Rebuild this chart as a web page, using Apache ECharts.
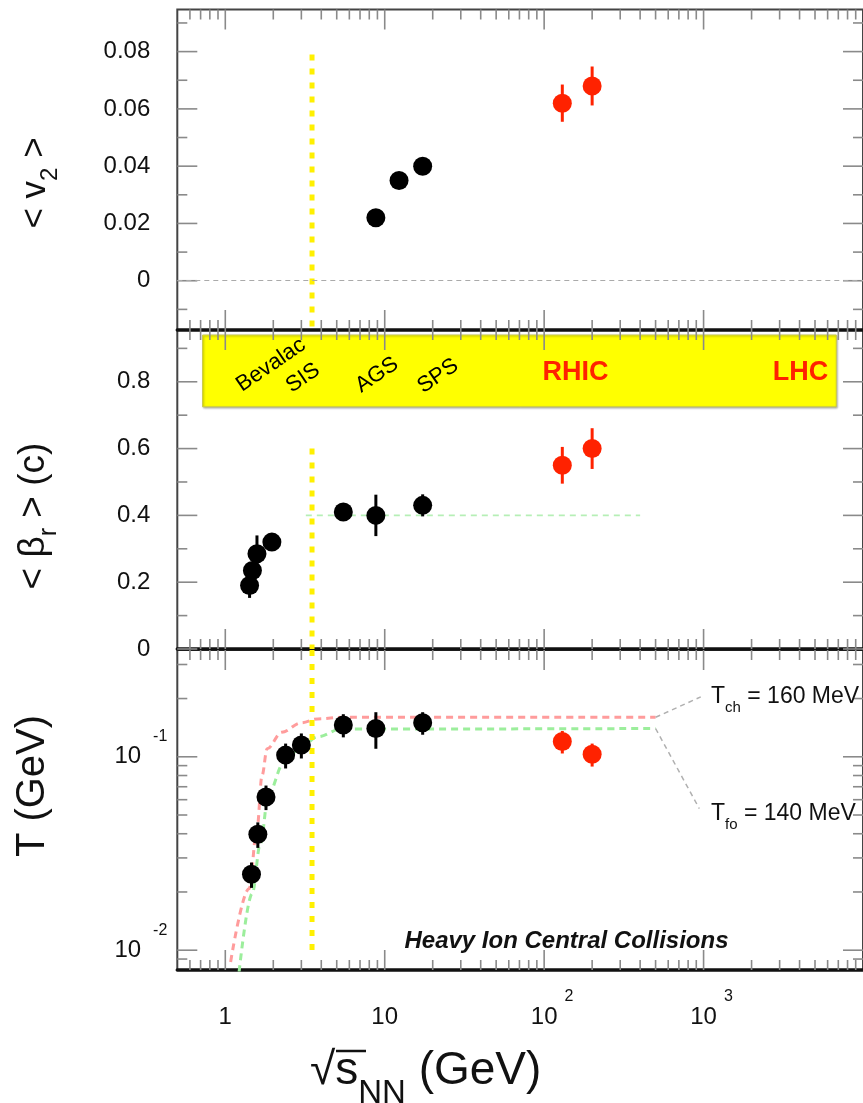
<!DOCTYPE html>
<html>
<head>
<meta charset="utf-8">
<title>Heavy ion central collisions: v2, radial flow and temperatures vs collision energy</title>
<script src="https://cdn.jsdelivr.net/npm/echarts@6/dist/echarts.min.js"></script>
<style>
  html, body { margin: 0; padding: 0; background: #ffffff; }
  #chart { width: 863px; height: 1103px; }
</style>
</head>
<body>
<div id="chart"></div>
<script>
// ---------------- data ----------------
// elliptic flow <v2>
const v2Energy = [8.8, 12.3, 17.3];
const v2Values = [0.022, 0.035, 0.040];
const v2Errors = [0.002, 0.002, 0.002];
const v2RhicEnergy = [130, 200];
const v2RhicValues = [0.062, 0.068];
const v2RhicErrors = [0.0065, 0.0068];

// mean radial flow velocity <beta_r>
const betaEnergy = [1.42, 1.48, 1.58, 1.96, 5.5, 8.8, 17.3];
const betaValues = [0.19, 0.235, 0.285, 0.32, 0.41, 0.40, 0.43];
const betaErrors = [0.037, 0.02, 0.055, 0.02, 0.02, 0.062, 0.033];
const betaRhicEnergy = [130, 200];
const betaRhicValues = [0.55, 0.60];
const betaRhicErrors = [0.055, 0.061];
const betaPlateauEnergy = [3.2, 400];
const betaPlateauValue = 0.40;

// temperatures (GeV)
const tEnergy = [1.46, 1.60, 1.80, 2.39, 3.0, 5.5, 8.8, 17.3];
const tValues = [0.0247, 0.0398, 0.062, 0.102, 0.115, 0.146, 0.140, 0.150];
const tErrors = [0.0037, 0.006, 0.009, 0.015, 0.017, 0.02, 0.03, 0.02];
const tRhicEnergy = [130, 200];
const tRhicValues = [0.120, 0.103];
const tRhicErrors = [0.016, 0.014];

// chemical freeze-out curve (plateau T_ch = 160 MeV)
const T_CH = 0.160;
const tchCurveEnergy = [1.08, 1.41, 1.585, 1.70, 1.83, 2.26, 3.0, 3.8, 5.5, 500];
const tchCurveValues = [0.0087, 0.0208, 0.0435, 0.080, 0.110, 0.134, 0.150, 0.157, T_CH, T_CH];
// kinetic freeze-out curve (plateau T_fo = 140 MeV)
const T_FO = 0.140;
const tfoCurveEnergy = [1.22, 1.475, 1.66, 1.87, 2.32, 3.0, 3.81, 5.3, 500];
const tfoCurveValues = [0.0077, 0.0196, 0.0356, 0.0646, 0.0925, 0.113, 0.127, 0.139, T_FO];
// leader lines from the plateaus to their captions
const tchLeaderEnergy = [500, 960];
const tchLeaderValues = [T_CH, 0.204];
const tfoLeaderEnergy = [500, 940];
const tfoLeaderValues = [T_FO, 0.054];

// SIS energy marker (yellow dotted line)
const sisEnergy = 3.5;
const sisV2Range = [0.079, -0.0172];
const sisBetaRange = [0.6, 0];
const sisTRange = [0.3565, 0.0091];

// accelerator band in the middle panel
const bandEnergy = [0.72, 6800];
const bandBeta = [0.94, 0.725];

// axis ranges
const energyRange = [0.5, 10000];
const v2Range = [-0.0172, 0.0947];
const betaRange = [0, 0.955];
const tRange = [0.0079, 0.3565];

// tick positions
const xMajorTicks = [1, 10, 100, 1000];
const xMinorTicks = [0.6, 0.7, 0.8, 0.9, 2, 3, 4, 5, 6, 7, 8, 9, 20, 30, 40, 50, 60, 70, 80, 90,
  200, 300, 400, 500, 600, 700, 800, 900, 2000, 3000, 4000, 5000, 6000, 7000, 8000, 9000];
const v2MajorTicks = [0, 0.02, 0.04, 0.06, 0.08];
const v2MinorTicks = [-0.01, 0.01, 0.03, 0.05, 0.07, 0.09];
const betaMajorTicks = [0, 0.2, 0.4, 0.6, 0.8];
const betaMinorTicks = [0.1, 0.3, 0.5, 0.7, 0.9];
const tMajorTicks = [0.01, 0.1];
const tMinorTicks = [0.009, 0.02, 0.03, 0.04, 0.05, 0.06, 0.07, 0.08, 0.09, 0.2, 0.3];

// ---------------- styling ----------------
const FONT = '"Liberation Sans", Arial, Helvetica, sans-serif';
const INK = '#111111';
const BLACK = '#000000';
const RED = '#ff2200';
const YELLOW = '#fff000';
const TICK_COLOR = '#8a8a8a';

const GRID_LEFT = 177.3;
const GRID_WIDTH = 695.5;

const chart = echarts.init(document.getElementById('chart'), null, { renderer: 'canvas', width: 863, height: 1103 });

function pairs(xs, ys) { return xs.map((x, i) => [x, ys[i]]); }

function xTickSeries(g, values, len, yRef) {
  return {
    type: 'custom', xAxisIndex: g, yAxisIndex: g, silent: true, z: 1, clip: false,
    data: values.map(v => [v, yRef]),
    renderItem: (params, api) => {
      const cs = params.coordSys;
      const px = api.coord([api.value(0), api.value(1)])[0];
      return {
        type: 'group', children: [
          { type: 'line', shape: { x1: px, y1: cs.y, x2: px, y2: cs.y + len }, style: { stroke: TICK_COLOR, lineWidth: 1.6 } },
          { type: 'line', shape: { x1: px, y1: cs.y + cs.height, x2: px, y2: cs.y + cs.height - len }, style: { stroke: TICK_COLOR, lineWidth: 1.6 } }
        ]
      };
    }
  };
}

function yTickSeries(g, values, len, xRef) {
  return {
    type: 'custom', xAxisIndex: g, yAxisIndex: g, silent: true, z: 1, clip: false,
    data: values.map(v => [xRef, v]),
    renderItem: (params, api) => {
      const cs = params.coordSys;
      const py = api.coord([api.value(0), api.value(1)])[1];
      return {
        type: 'group', children: [
          { type: 'line', shape: { x1: cs.x, y1: py, x2: cs.x + len, y2: py }, style: { stroke: TICK_COLOR, lineWidth: 1.6 } },
          { type: 'line', shape: { x1: cs.x + cs.width, y1: py, x2: cs.x + cs.width - len, y2: py }, style: { stroke: TICK_COLOR, lineWidth: 1.6 } }
        ]
      };
    }
  };
}

function errorSeries(g, xs, ys, es, color) {
  return {
    type: 'custom', xAxisIndex: g, yAxisIndex: g, silent: true, z: 3,
    data: xs.map((x, i) => [x, ys[i] - es[i], ys[i] + es[i]]),
    encode: { x: 0, y: [1, 2] },
    renderItem: (params, api) => {
      const a = api.coord([api.value(0), api.value(1)]);
      const b = api.coord([api.value(0), api.value(2)]);
      return { type: 'line', shape: { x1: a[0], y1: a[1], x2: b[0], y2: b[1] }, style: { stroke: color, lineWidth: 3 } };
    }
  };
}

function pointSeries(g, xs, ys, color) {
  return {
    type: 'scatter', xAxisIndex: g, yAxisIndex: g, silent: true, z: 4,
    symbol: 'circle', symbolSize: 19, itemStyle: { color: color, opacity: 1 },
    data: pairs(xs, ys)
  };
}

function lineSeries(g, data, style, extra) {
  return Object.assign({
    type: 'line', xAxisIndex: g, yAxisIndex: g, silent: true, z: 2,
    showSymbol: false, symbol: 'none', data: data, lineStyle: style
  }, extra || {});
}

function sisLine(g, range) {
  return lineSeries(g, [[sisEnergy, range[0]], [sisEnergy, range[1]]],
    { color: YELLOW, width: 5, type: [6, 8], cap: 'butt' });
}

function logExponent(v) { return Math.round(Math.log10(v)); }

function label(x, y, text, style, rotation) {
  return {
    type: 'text', x: x, y: y, rotation: rotation || 0, z: 100, silent: true,
    style: Object.assign({ text: text, align: 'center', verticalAlign: 'middle', fill: INK, fontFamily: FONT }, style)
  };
}

const xAxisBase = {
  type: 'log', logBase: 10, min: energyRange[0], max: energyRange[1],
  axisLine: { show: true, onZero: false, lineStyle: { color: INK, width: 3.5 } },
  axisTick: { show: false }, splitLine: { show: false }, axisLabel: { show: false }
};

const option = {
  animation: false,
  backgroundColor: '#ffffff',
  textStyle: { fontFamily: FONT },
  grid: [
    { left: GRID_LEFT, top: 9.5, width: GRID_WIDTH, height: 320.5, show: true, borderColor: '#444', borderWidth: 2 },
    { left: GRID_LEFT, top: 330, width: GRID_WIDTH, height: 319, show: true, borderColor: '#444', borderWidth: 2 },
    { left: GRID_LEFT, top: 650, width: GRID_WIDTH, height: 320, show: true, borderColor: '#444', borderWidth: 2 }
  ],
  xAxis: [
    Object.assign({}, xAxisBase, { gridIndex: 0 }),
    Object.assign({}, xAxisBase, { gridIndex: 1 }),
    Object.assign({}, xAxisBase, {
      gridIndex: 2,
      axisLabel: {
        show: true, margin: 19, showMinLabel: false, showMaxLabel: false,
        formatter: v => {
          const e = logExponent(v);
          if (e === 0) return '{b|1}';
          if (e === 1) return '{b|10}';
          return '{bp|10}{e|' + e + '}';
        },
        rich: {
          b: { fontSize: 24, lineHeight: 56, color: INK, fontFamily: FONT },
          bp: { fontSize: 24, lineHeight: 56, color: INK, fontFamily: FONT, padding: [0, 0, 0, 16] },
          e: { fontSize: 16, lineHeight: 16, color: INK, fontFamily: FONT, verticalAlign: 'top', padding: [0, 0, 0, 7] }
        }
      }
    })
  ],
  yAxis: [
    {
      type: 'value', gridIndex: 0, min: v2Range[0], max: v2Range[1],
      axisLine: { show: false }, axisTick: { show: false }, splitLine: { show: false },
      axisLabel: {
        margin: 27, fontSize: 24, color: INK, fontFamily: FONT,
        customValues: v2MajorTicks,
        formatter: v => (Math.abs(v) < 1e-9 ? '0' : v.toFixed(2))
      }
    },
    {
      type: 'value', gridIndex: 1, min: betaRange[0], max: betaRange[1],
      axisLine: { show: false }, axisTick: { show: false }, splitLine: { show: false },
      axisLabel: {
        margin: 27, fontSize: 24, color: INK, fontFamily: FONT,
        customValues: betaMajorTicks,
        formatter: v => (Math.abs(v) < 1e-9 ? '0' : v.toFixed(1))
      }
    },
    {
      type: 'log', logBase: 10, gridIndex: 2, min: tRange[0], max: tRange[1],
      axisLine: { show: false }, axisTick: { show: false }, splitLine: { show: false },
      axisLabel: {
        margin: 10, showMinLabel: false, showMaxLabel: false,
        formatter: v => '{b|10}{e|' + logExponent(v) + '}',
        rich: {
          b: { fontSize: 24, lineHeight: 56, color: INK, fontFamily: FONT },
          e: { fontSize: 16, lineHeight: 16, color: INK, fontFamily: FONT, verticalAlign: 'top', padding: [0, 0, 0, 12] }
        }
      }
    }
  ],
  series: [
    // ticks
    xTickSeries(0, xMajorTicks, 20, 0), xTickSeries(0, xMinorTicks, 10, 0),
    xTickSeries(1, xMajorTicks, 20, 0.5), xTickSeries(1, xMinorTicks, 10, 0.5),
    xTickSeries(2, xMajorTicks, 20, 0.05), xTickSeries(2, xMinorTicks, 10, 0.05),
    yTickSeries(0, v2MajorTicks, 20, 1), yTickSeries(0, v2MinorTicks, 10, 1),
    yTickSeries(1, betaMajorTicks, 20, 1), yTickSeries(1, betaMinorTicks, 10, 1),
    yTickSeries(2, tMajorTicks, 20, 1), yTickSeries(2, tMinorTicks, 10, 1),

    // top panel: zero reference + SIS line
    lineSeries(0, [], { width: 0 }, {
      markLine: {
        silent: true, symbol: 'none', label: { show: false },
        lineStyle: { color: '#aaaaaa', width: 1.2, type: [5, 4] },
        data: [{ yAxis: 0 }]
      }
    }),
    sisLine(0, sisV2Range),
    errorSeries(0, v2Energy, v2Values, v2Errors, BLACK),
    errorSeries(0, v2RhicEnergy, v2RhicValues, v2RhicErrors, RED),
    pointSeries(0, v2Energy, v2Values, BLACK),
    pointSeries(0, v2RhicEnergy, v2RhicValues, RED),

    // middle panel: accelerator band, plateau, SIS line
    lineSeries(1, pairs(betaPlateauEnergy, [betaPlateauValue, betaPlateauValue]),
      { color: '#b6efb6', width: 1.6, type: [6, 5] }, {
        markArea: {
          silent: true,
          itemStyle: { color: '#ffff00', borderColor: '#c9c94a', borderWidth: 1, shadowColor: 'rgba(0,0,0,0.3)', shadowBlur: 2, shadowOffsetX: 1, shadowOffsetY: 1 },
          data: [[{ coord: [bandEnergy[0], bandBeta[0]] }, { coord: [bandEnergy[1], bandBeta[1]] }]]
        }
      }),
    sisLine(1, sisBetaRange),
    errorSeries(1, betaEnergy, betaValues, betaErrors, BLACK),
    errorSeries(1, betaRhicEnergy, betaRhicValues, betaRhicErrors, RED),
    pointSeries(1, betaEnergy, betaValues, BLACK),
    pointSeries(1, betaRhicEnergy, betaRhicValues, RED),

    // bottom panel: freeze-out curves, leaders, SIS line
    lineSeries(2, pairs(tchCurveEnergy, tchCurveValues), { color: '#ff9c9c', width: 3, type: [7, 5] }, { smooth: 0.35, smoothMonotone: 'x' }),
    lineSeries(2, pairs(tfoCurveEnergy, tfoCurveValues), { color: '#9cee9c', width: 3, type: [7, 5] }, { smooth: 0.35, smoothMonotone: 'x' }),
    lineSeries(2, pairs(tchLeaderEnergy, tchLeaderValues), { color: '#b0b0b0', width: 1.5, type: [5, 4] }),
    lineSeries(2, pairs(tfoLeaderEnergy, tfoLeaderValues), { color: '#b0b0b0', width: 1.5, type: [5, 4] }),
    sisLine(2, sisTRange),
    errorSeries(2, tEnergy, tValues, tErrors, BLACK),
    errorSeries(2, tRhicEnergy, tRhicValues, tRhicErrors, RED),
    pointSeries(2, tEnergy, tValues, BLACK),
    pointSeries(2, tRhicEnergy, tRhicValues, RED)
  ],
  graphic: [
    // axis titles
    label(35, 183, '{a|< v}{s|2}{a| >}', {
      rich: {
        a: { fontSize: 35, lineHeight: 54, fill: INK, fontFamily: FONT },
        s: { fontSize: 24, lineHeight: 24, fill: INK, fontFamily: FONT, verticalAlign: 'bottom' }
      }
    }, Math.PI / 2),
    label(34, 516, '{a|< β}{s|r}{a| > (c)}', {
      rich: {
        a: { fontSize: 37, lineHeight: 56, fill: INK, fontFamily: FONT },
        s: { fontSize: 25, lineHeight: 25, fill: INK, fontFamily: FONT, verticalAlign: 'bottom' }
      }
    }, Math.PI / 2),
    label(33, 786, 'T (GeV)', { fontSize: 40 }, Math.PI / 2),
    {
      type: 'text', x: 310, y: 1071, z: 100, silent: true,
      style: {
        text: '{a|√s}{s|NN}{a| (GeV)}', align: 'left', verticalAlign: 'middle',
        rich: {
          a: { fontSize: 46, lineHeight: 78, fill: INK, fontFamily: FONT },
          s: { fontSize: 33, lineHeight: 33, fill: INK, fontFamily: FONT, verticalAlign: 'bottom' }
        }
      }
    },
    { type: 'line', z: 100, silent: true, shape: { x1: 336, y1: 1051, x2: 366, y2: 1051 }, style: { stroke: INK, lineWidth: 2.5 } },

    // accelerator labels in the band
    label(271, 365, 'Bevalac', { fontSize: 22, fill: BLACK }, 0.6),
    label(303, 378, 'SIS', { fontSize: 22, fill: BLACK }, 0.6),
    label(377, 375, 'AGS', { fontSize: 22, fill: BLACK }, 0.6),
    label(438, 376, 'SPS', { fontSize: 22, fill: BLACK }, 0.6),
    label(575.5, 372.5, 'RHIC', { fontSize: 27, fontWeight: 'bold', fill: RED }),
    label(800.5, 372.5, 'LHC', { fontSize: 27, fontWeight: 'bold', fill: RED }),

    // freeze-out captions
    {
      type: 'text', x: 711, y: 697, z: 100, silent: true,
      style: {
        text: '{t|T}{s|ch}{t| = 160 MeV}', align: 'left', verticalAlign: 'middle',
        rich: {
          t: { fontSize: 23, lineHeight: 36, fill: INK, fontFamily: FONT },
          s: { fontSize: 15, lineHeight: 15, fill: INK, fontFamily: FONT, verticalAlign: 'bottom' }
        }
      }
    },
    {
      type: 'text', x: 711, y: 814, z: 100, silent: true,
      style: {
        text: '{t|T}{s|fo}{t| = 140 MeV}', align: 'left', verticalAlign: 'middle',
        rich: {
          t: { fontSize: 23, lineHeight: 36, fill: INK, fontFamily: FONT },
          s: { fontSize: 15, lineHeight: 15, fill: INK, fontFamily: FONT, verticalAlign: 'bottom' }
        }
      }
    },
    label(566.5, 941, 'Heavy Ion Central Collisions', { fontSize: 24, fontWeight: 'bold', fontStyle: 'italic' })
  ]
};

chart.setOption(option);
</script>
</body>
</html>
